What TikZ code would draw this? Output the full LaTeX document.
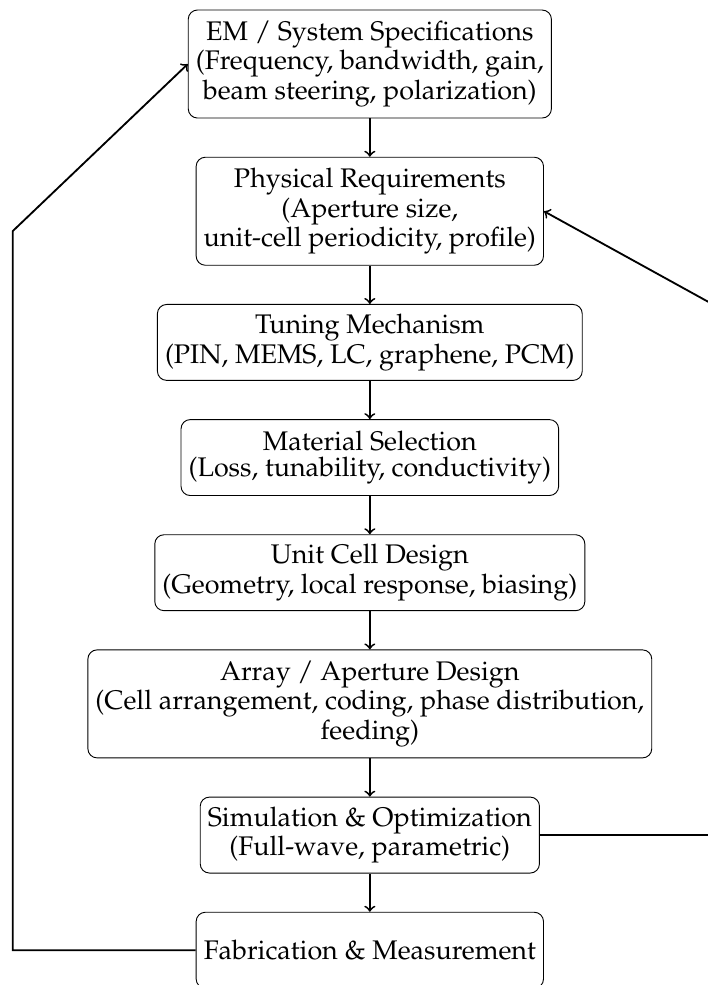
\documentclass[tikz,border=0pt]{standalone}
\usepackage[T1]{fontenc}
\usepackage{mathpazo}
\usetikzlibrary{positioning}

\begin{document}
\begin{tikzpicture}[node distance=0.585cm]

\tikzstyle{block}=[rectangle, draw, rounded corners=4pt, align=center, font=\fontsize{11.7}{11.6}\selectfont, minimum height=1.16cm, inner xsep=3.3pt, inner ysep=4.2pt]
\tikzstyle{tall}=[minimum height=1.65cm]
\tikzstyle{flow}=[->, thick]
\tikzstyle{loop}=[->, thick]

\useasboundingbox (-5.65, 0.978) rectangle (5.165, -14.07);

\node[block, tall] (spec) at (0.0, 0.0) {EM / System Specifications\\(Frequency, bandwidth, gain,\\beam steering, polarization)};
\node[block, tall, below=of spec] (phys) {Physical Requirements\\(Aperture size,\\unit-cell periodicity, profile)};
\node[block, below=of phys] (tune) {Tuning Mechanism\\(PIN, MEMS, LC, graphene, PCM)};
\node[block, below=of tune] (mat) {Material Selection\\(Loss, tunability, conductivity)};
\node[block, below=of mat] (cell) {Unit Cell Design\\(Geometry, local response, biasing)};
\node[block, tall, below=of cell] (array) {Array / Aperture Design\\(Cell arrangement, coding, phase distribution,\\feeding)};
\node[block, below=of array] (sim) {Simulation \& Optimization\\(Full-wave, parametric)};
\node[block, below=of sim] (fab) {Fabrication \& Measurement};

\coordinate (leftcorner) at (-5.455, -2.552);
\coordinate (rightcorner) at (5.455, -3.79);

\draw[flow] (spec) -- (phys);
\draw[flow] (phys) -- (tune);
\draw[flow] (tune) -- (mat);
\draw[flow] (mat) -- (cell);
\draw[flow] (cell) -- (array);
\draw[flow] (array) -- (sim);
\draw[flow] (sim) -- (fab);

\draw[loop] (fab.west) -| (leftcorner) -- (spec.west);
\draw[loop] (sim.east) -| (rightcorner) -- (phys.east);

\end{tikzpicture}
\end{document}
